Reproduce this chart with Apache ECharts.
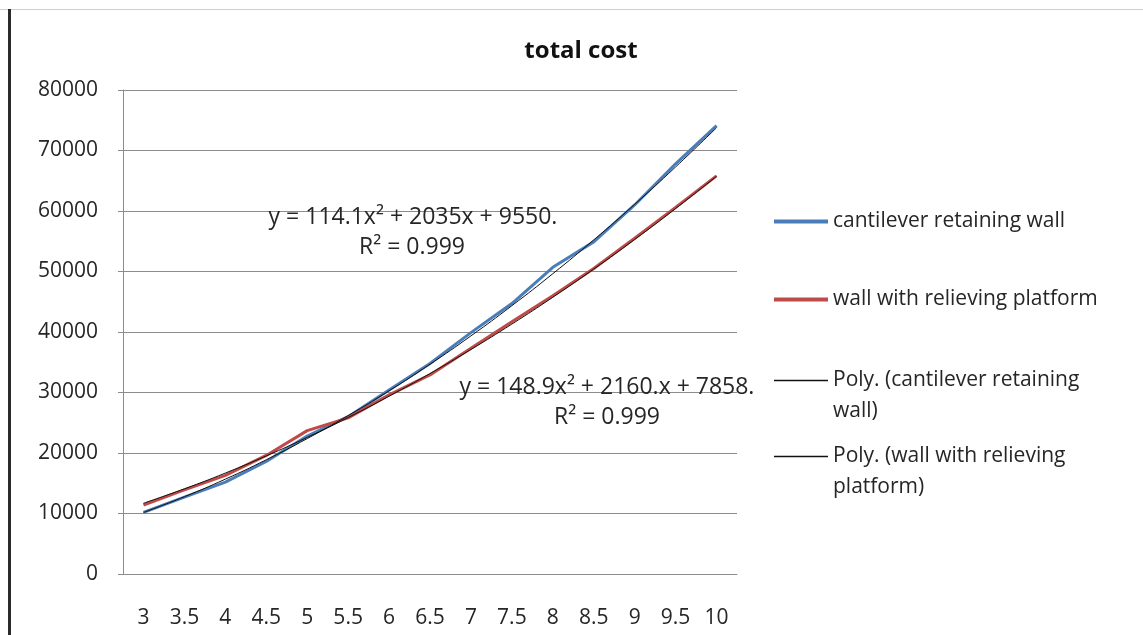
<!DOCTYPE html>
<html>
<head>
<meta charset="utf-8">
<title>total cost</title>
<script src="https://cdn.jsdelivr.net/npm/echarts@6/dist/echarts.min.js"></script>
<style>
  html, body { margin: 0; padding: 0; background: #ffffff; }
  #chart { width: 1143px; height: 635px; }
</style>
</head>
<body>
<div id="chart"></div>
<script>
// Wall height categories
const heights = ['3', '3.5', '4', '4.5', '5', '5.5', '6', '6.5', '7', '7.5', '8', '8.5', '9', '9.5', '10'];

// Total cost per wall type
const cantileverCost = [10200, 12700, 15200, 18600, 22800, 26000, 30400, 34800, 39900, 44700, 50700, 54900, 61000, 67800, 74100];
const relievingCost  = [11400, 13900, 16300, 19600, 23700, 25800, 29600, 32900, 37300, 41700, 46000, 50500, 55500, 60600, 65800];

// Second-order trend coefficients [a, b, c] for y = a·x² + b·x + c, x = 1..n
const cantileverFit = [148.9, 2160, 7858];
const relievingFit  = [114.1, 2035, 9550];

// Y axis ticks
const yTicks = [0, 10000, 20000, 30000, 40000, 50000, 60000, 70000, 80000];

const seriesNames = [
  'cantilever retaining wall',
  'wall with relieving platform',
  'Poly. (cantilever retaining wall)',
  'Poly. (wall with relieving platform)'
];

function trend(coef) {
  return heights.map((_, i) => {
    const x = i + 1;
    return coef[0] * x * x + coef[1] * x + coef[2];
  });
}

const FONT = '"Open Sans", "Liberation Sans", sans-serif';
const TEXT = '#262626';
const GRID = '#8c8c8c';

const chart = echarts.init(document.getElementById('chart'), null, { renderer: 'canvas' });

const legendText = { fontFamily: FONT, fontSize: 21, color: TEXT, lineHeight: 31 };

// two-line legend entries: a leading empty line keeps the icon level with the first text line
const wrapped = {
  [seriesNames[2]]: ' \nPoly. (cantilever retaining\nwall)',
  [seriesNames[3]]: ' \nPoly. (wall with relieving\nplatform)'
};

chart.setOption({
  backgroundColor: '#ffffff',
  animation: false,
  title: {
    text: 'total cost',
    left: 576,
    top: 34,
    textAlign: 'center',
    textStyle: { fontFamily: FONT, fontSize: 24, fontWeight: 'bold', color: '#111' }
  },
  grid: { left: 123, right: 406, top: 90, bottom: 61, containLabel: false },
  xAxis: {
    type: 'category',
    data: heights,
    boundaryGap: true,
    axisLine: { show: true, lineStyle: { color: GRID, width: 1 } },
    axisTick: { show: false },
    axisLabel: { margin: 34, fontFamily: FONT, fontSize: 21, color: TEXT, interval: 0 },
    splitLine: { show: false }
  },
  yAxis: {
    type: 'value',
    min: yTicks[0],
    max: yTicks[yTicks.length - 1],
    interval: yTicks[1] - yTicks[0],
    axisLine: { show: true, lineStyle: { color: GRID, width: 1 } },
    axisTick: { show: true, length: 5, lineStyle: { color: GRID } },
    axisLabel: { margin: 25, fontFamily: FONT, fontSize: 21, color: TEXT, formatter: v => String(v) },
    splitLine: { show: true, lineStyle: { color: GRID, width: 1 } }
  },
  legend: [
    {
      data: [seriesNames[0], seriesNames[1]],
      orient: 'vertical',
      left: 769,
      top: 201,
      padding: 5,
      itemGap: 47,
      icon: 'rect',
      itemWidth: 54,
      itemHeight: 4,
      textStyle: legendText,
      selectedMode: false
    },
    {
      data: [seriesNames[2]],
      orient: 'vertical',
      left: 769,
      top: 329,
      padding: 5,
      icon: 'rect',
      itemWidth: 54,
      itemHeight: 1.5,
      formatter: name => wrapped[name],
      textStyle: legendText,
      selectedMode: false
    },
    {
      data: [seriesNames[3]],
      orient: 'vertical',
      left: 769,
      top: 405,
      padding: 5,
      icon: 'rect',
      itemWidth: 54,
      itemHeight: 1.5,
      formatter: name => wrapped[name],
      textStyle: legendText,
      selectedMode: false
    }
  ],
  series: [
    {
      name: seriesNames[0],
      type: 'line',
      data: cantileverCost,
      symbol: 'none',
      color: '#4a7ebb',
      lineStyle: { width: 3, color: '#4a7ebb' },
      z: 2
    },
    {
      name: seriesNames[1],
      type: 'line',
      data: relievingCost,
      symbol: 'none',
      color: '#be4b48',
      lineStyle: { width: 3, color: '#be4b48' },
      z: 2
    },
    {
      name: seriesNames[2],
      type: 'line',
      data: trend(cantileverFit),
      symbol: 'none',
      smooth: true,
      color: '#111',
      lineStyle: { width: 1, color: '#111' },
      z: 3
    },
    {
      name: seriesNames[3],
      type: 'line',
      data: trend(relievingFit),
      symbol: 'none',
      smooth: true,
      color: '#111',
      lineStyle: { width: 1, color: '#111' },
      z: 3
    }
  ],
  graphic: [
    // page frame: thin top rule and dark left bar
    { type: 'rect', left: 0, top: 9, shape: { width: 1143, height: 1 }, style: { fill: '#cfcfcf' }, silent: true },
    { type: 'rect', left: 8, top: 9, shape: { width: 3, height: 626 }, style: { fill: '#2b2b2b' }, silent: true },
    // trendline equations
    {
      type: 'text', x: 413, y: 217, z: 10,
      style: { text: 'y = ' + relievingFit[0] + 'x² + ' + relievingFit[1] + 'x + ' + relievingFit[2] + '.', fontFamily: FONT, fontSize: 23, fill: TEXT, align: 'center', verticalAlign: 'middle' }
    },
    {
      type: 'text', x: 412, y: 247, z: 10,
      style: { text: 'R² = 0.999', fontFamily: FONT, fontSize: 23, fill: TEXT, align: 'center', verticalAlign: 'middle' }
    },
    {
      type: 'text', x: 607, y: 387, z: 10,
      style: { text: 'y = ' + cantileverFit[0] + 'x² + ' + cantileverFit[1] + '.x + ' + cantileverFit[2] + '.', fontFamily: FONT, fontSize: 23, fill: TEXT, align: 'center', verticalAlign: 'middle' }
    },
    {
      type: 'text', x: 607, y: 417, z: 10,
      style: { text: 'R² = 0.999', fontFamily: FONT, fontSize: 23, fill: TEXT, align: 'center', verticalAlign: 'middle' }
    }
  ]
});
</script>
</body>
</html>
